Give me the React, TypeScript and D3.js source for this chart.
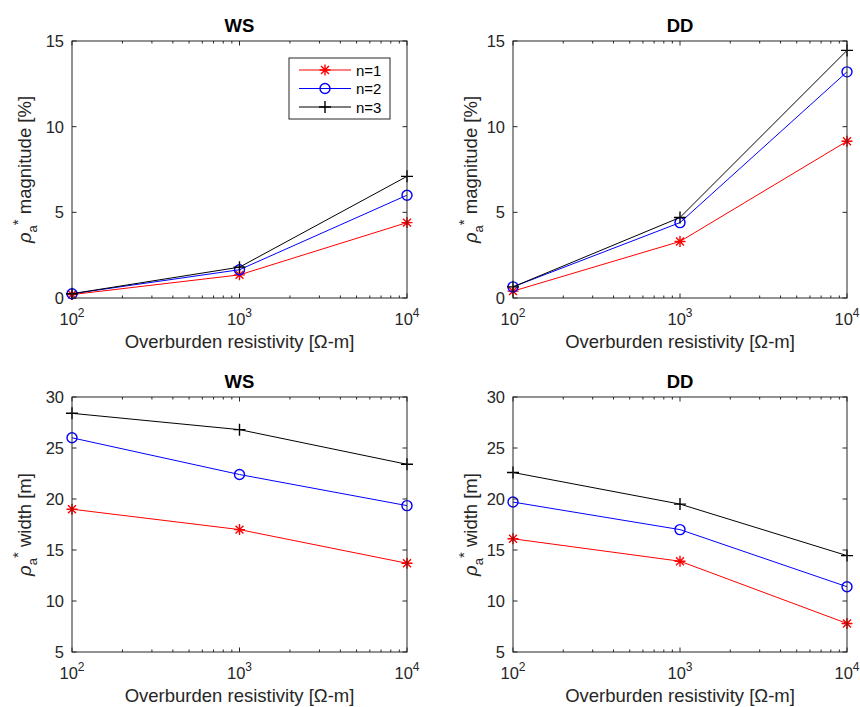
import React from 'react';
import * as d3 from 'd3';

// overburden resistivity values (Ohm-m)
const resistivity = [100, 1000, 10000];
const seriesNames = ['n=1', 'n=2', 'n=3'];
const seriesColors = ['#ff0000', '#0000ff', '#000000'];
const seriesMarkers = ['star', 'circle', 'plus'];

// magnitude [%]
const wsMagnitude = [
  [0.2, 1.35, 4.4],
  [0.25, 1.65, 6.0],
  [0.25, 1.8, 7.1],
];
const ddMagnitude = [
  [0.4, 3.3, 9.15],
  [0.65, 4.4, 13.2],
  [0.65, 4.7, 14.45],
];
// width [m]
const wsWidth = [
  [19.0, 17.0, 13.7],
  [26.0, 22.4, 19.35],
  [28.4, 26.8, 23.4],
];
const ddWidth = [
  [16.1, 13.9, 7.8],
  [19.7, 17.0, 11.4],
  [22.6, 19.5, 14.45],
];

const magnitudeTicks = [0, 5, 10, 15];
const widthTicks = [5, 10, 15, 20, 25, 30];
const xTickExponents = [2, 3, 4];

const AXIS = '#262626';
const FONT = '"Liberation Sans", Arial, Helvetica, sans-serif';

const Marker: React.FC<{ kind: string; x: number; y: number; color: string }> = ({ kind, x, y, color }) => {
  if (kind === 'circle') {
    return <circle cx={x} cy={y} r={5} fill="none" stroke={color} strokeWidth={1.4} />;
  }
  if (kind === 'plus') {
    const s = 6;
    return (
      <path d={`M${x - s},${y}H${x + s}M${x},${y - s}V${y + s}`} stroke={color} strokeWidth={1.4} fill="none" />
    );
  }
  const s = 5.5;
  const d = s * 0.72;
  return (
    <path
      d={`M${x - s},${y}H${x + s}M${x},${y - s}V${y + s}M${x - d},${y - d}L${x + d},${y + d}M${x - d},${y + d}L${x + d},${y - d}`}
      stroke={color}
      strokeWidth={1.4}
      fill="none"
    />
  );
};

interface PanelProps {
  left: number;
  right: number;
  top: number;
  bottom: number;
  title: string;
  values: number[][];
  yDomain: [number, number];
  yTicks: number[];
  yWord: string;
  yLabelGap: number;
  legend?: boolean;
}

const Panel: React.FC<PanelProps> = ({ left, right, top, bottom, title, values, yDomain, yTicks, yWord, yLabelGap, legend }) => {
  const x = d3.scaleLog().domain([100, 10000]).range([left, right]);
  const y = d3.scaleLinear().domain(yDomain).range([bottom, top]);
  const tl = 4.5;
  const minor: number[] = [];
  [100, 1000].forEach((dec) => {
    for (let k = 2; k <= 9; k++) minor.push(dec * k);
  });
  const line = d3
    .line<number>()
    .x((_, i) => x(resistivity[i]))
    .y((v) => y(v));
  const midX = (left + right) / 2;
  const midY = (top + bottom) / 2;

  return (
    <g fontFamily={FONT}>
      <rect x={left} y={top} width={right - left} height={bottom - top} fill="#fff" stroke="none" />
      {/* series */}
      {values.map((vals, si) => (
        <g key={si}>
          <path d={line(vals) || ''} fill="none" stroke={seriesColors[si]} strokeWidth={1} />
          {vals.map((v, i) => (
            <Marker key={i} kind={seriesMarkers[si]} x={x(resistivity[i])} y={y(v)} color={seriesColors[si]} />
          ))}
        </g>
      ))}
      {/* box */}
      <rect x={left} y={top} width={right - left} height={bottom - top} fill="none" stroke={AXIS} strokeWidth={1} />
      {/* x ticks */}
      {resistivity.map((t) => (
        <g key={t}>
          <line x1={x(t)} x2={x(t)} y1={bottom} y2={bottom - tl} stroke={AXIS} />
          <line x1={x(t)} x2={x(t)} y1={top} y2={top + tl} stroke={AXIS} />
        </g>
      ))}
      {minor.map((t) => (
        <g key={t}>
          <line x1={x(t)} x2={x(t)} y1={bottom} y2={bottom - 2.5} stroke={AXIS} />
          <line x1={x(t)} x2={x(t)} y1={top} y2={top + 2.5} stroke={AXIS} />
        </g>
      ))}
      {xTickExponents.map((e) => (
        <text key={e} x={x(Math.pow(10, e))} y={bottom + 27} textAnchor="middle" fontSize={16.5} fill={AXIS}>
          10
          <tspan dy={-8} fontSize={12}>
            {e}
          </tspan>
        </text>
      ))}
      {/* y ticks */}
      {yTicks.map((t) => (
        <g key={t}>
          <line x1={left} x2={left + tl} y1={y(t)} y2={y(t)} stroke={AXIS} />
          <line x1={right} x2={right - tl} y1={y(t)} y2={y(t)} stroke={AXIS} />
          <text x={left - 8} y={y(t) + 6} textAnchor="end" fontSize={16.5} fill={AXIS}>
            {t}
          </text>
        </g>
      ))}
      {/* title */}
      <text x={midX} y={top - 9} textAnchor="middle" fontSize={18.5} fontWeight="bold" fill="#000">
        {title}
      </text>
      {/* x label */}
      <text x={midX} y={bottom + 50} textAnchor="middle" fontSize={18.5} fill={AXIS}>
        Overburden resistivity [Ω-m]
      </text>
      {/* y label */}
      <text
        transform={`translate(${left - yLabelGap},${midY}) rotate(-90)`}
        textAnchor="middle"
        fontSize={18.5}
        fill={AXIS}
      >
        <tspan fontStyle="italic">ρ</tspan>
        <tspan dy={6} fontSize={13}>a</tspan>
        <tspan dy={-14} fontSize={15}>*</tspan>
        <tspan dy={8}> {yWord}</tspan>
      </text>
      {legend && (
        <g>
          <rect x={289} y={58} width={101} height={61} fill="#fff" stroke={AXIS} strokeWidth={1} />
          {seriesNames.map((name, i) => {
            const ly = 70 + i * 18.5;
            return (
              <g key={name}>
                <line x1={299} x2={351} y1={ly} y2={ly} stroke={seriesColors[i]} strokeWidth={1} />
                <Marker kind={seriesMarkers[i]} x={325} y={ly} color={seriesColors[i]} />
                <text x={356} y={ly + 5.5} fontSize={15} fill="#000">
                  {name}
                </text>
              </g>
            );
          })}
        </g>
      )}
    </g>
  );
};

export default function App() {
  return (
    <svg
      width={860}
      height={707}
      style={{ position: 'absolute', left: 0, top: 0, display: 'block', background: '#fff' }}
    >
      <rect width={860} height={707} fill="#fff" />
      <Panel left={72} right={407} top={41} bottom={298} title="WS" values={wsMagnitude} yDomain={[0, 15]} yTicks={magnitudeTicks} yWord="magnitude [%]" yLabelGap={41} legend />
      <Panel left={513} right={847} top={41} bottom={298} title="DD" values={ddMagnitude} yDomain={[0, 15]} yTicks={magnitudeTicks} yWord="magnitude [%]" yLabelGap={36} />
      <Panel left={72} right={407} top={397} bottom={652} title="WS" values={wsWidth} yDomain={[5, 30]} yTicks={widthTicks} yWord="width [m]" yLabelGap={41} />
      <Panel left={513} right={847} top={397} bottom={652} title="DD" values={ddWidth} yDomain={[5, 30]} yTicks={widthTicks} yWord="width [m]" yLabelGap={36} />
    </svg>
  );
}
